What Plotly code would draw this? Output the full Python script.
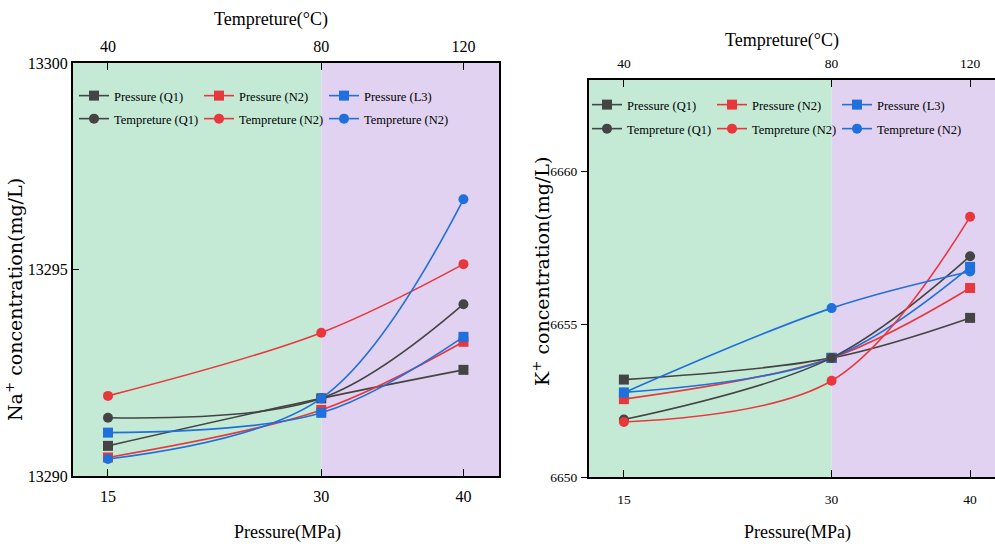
import plotly.graph_objects as go

pressure = [15, 30, 40]
pressure_ticks = ["15", "30", "40"]
temp_labels = ["40", "80", "120"]
series_names = ["Pressure (Q1)", "Pressure (N2)", "Pressure (L3)",
                "Tempreture (Q1)", "Tempreture (N2)", "Tempreture (N2)"]
series_colors = ["#444444", "#e8383d", "#1f6fdc", "#444444", "#e8383d", "#1f6fdc"]
series_symbols = ["square", "square", "square", "circle", "circle", "circle"]

na_p_q1 = [13290.73, 13291.88, 13292.57]
na_p_n2 = [13290.45, 13291.60, 13293.25]
na_p_l3 = [13291.05, 13291.53, 13293.37]
na_t_q1 = [13291.41, 13291.88, 13294.16]
na_t_n2r = [13291.94, 13293.47, 13295.13]
na_t_n2b = [13290.41, 13291.88, 13296.70]

k_p_q1 = [6653.19, 6653.90, 6655.21]
k_p_n2 = [6652.55, 6653.90, 6656.19]
k_p_l3 = [6652.77, 6653.90, 6656.88]
k_t_q1 = [6651.88, 6653.90, 6657.23]
k_t_n2r = [6651.80, 6653.15, 6658.52]
k_t_n2b = [6652.76, 6655.53, 6656.73]

na_series = [na_p_q1, na_p_n2, na_p_l3, na_t_q1, na_t_n2r, na_t_n2b]
k_series = [k_p_q1, k_p_n2, k_p_l3, k_t_q1, k_t_n2r, k_t_n2b]

FONT = "Liberation Serif"
W, H = 995, 548
GREEN = "#c4ead6"
PURPLE = "#e1d2f1"

fig = go.Figure()

def add_series(data, xa, ya, legends):
    for i, vals in enumerate(data):
        fig.add_trace(go.Scatter(
            x=pressure, y=vals, name=series_names[i], xaxis=xa, yaxis=ya,
            mode="lines+markers", line=dict(color=series_colors[i], width=1.6, shape="spline"),
            marker=dict(symbol=series_symbols[i], size=10, color=series_colors[i]),
            legend=legends[0] if i < 3 else legends[1], showlegend=True))

add_series(na_series, "x", "y", ["legend", "legend2"])
add_series(k_series, "x2", "y2", ["legend3", "legend4"])

# plot areas in pixels
L1 = (73, 499, 63, 476)
L2 = (589, 995, 80, 477)
def dom_x(a):
    return [a[0] / W, a[1] / W]
def dom_y(a):
    return [1 - a[3] / H, 1 - a[2] / H]

xr1 = [12.54, 42.5]
xr2 = [12.48, 41.8]

tf_left = dict(family=FONT, size=16, color="black")
tf_right = dict(family=FONT, size=13.5, color="black")
common_x = dict(tickmode="array", tickvals=pressure, showline=True, linecolor="black",
                linewidth=2, ticks="inside", ticklen=7, tickcolor="black", showgrid=False,
                zeroline=False, automargin=False)

fig.update_layout(
    width=W, height=H, margin=dict(l=0, r=0, t=0, b=0, autoexpand=False),
    paper_bgcolor="white", plot_bgcolor="rgba(0,0,0,0)",
    xaxis=dict(domain=dom_x(L1), range=xr1, ticktext=pressure_ticks, anchor="y",
               ticklabelstandoff=5, tickfont=tf_left, **common_x),
    yaxis=dict(domain=dom_y(L1), range=[13290, 13300], tickvals=[13290, 13295, 13300],
               tickformat="d", automargin=False,
               showline=True, linecolor="black", linewidth=2, ticks="inside", ticklen=6,
               tickcolor="black", mirror=True, showgrid=False, zeroline=False,
               tickfont=tf_left, anchor="x"),
    xaxis3=dict(overlaying="x", side="top", range=xr1, ticktext=temp_labels, anchor="y",
                ticklabelstandoff=3, tickfont=tf_left, **common_x),
    xaxis2=dict(domain=dom_x(L2), range=xr2, ticktext=pressure_ticks, anchor="y2",
                ticklabelstandoff=9, tickfont=tf_right, **common_x),
    yaxis2=dict(domain=dom_y(L2), range=[6650, 6663], tickvals=[6650, 6655, 6660],
                tickformat="d", automargin=False, ticklabelstandoff=1,
                showline=True, linecolor="black", linewidth=2, ticks="outside", ticklen=6,
                tickcolor="black", showgrid=False, zeroline=False,
                tickfont=tf_right, anchor="x2"),
    xaxis4=dict(overlaying="x2", side="top", range=xr2, ticktext=temp_labels, anchor="y2",
                ticklabelstandoff=5, tickfont=tf_right, **common_x),
)

# hidden points that activate the top (temperature) axes, placed outside the visible range
fig.add_trace(go.Scatter(x=[20], y=[13280], xaxis="x3", yaxis="y", showlegend=False,
                         mode="markers", hoverinfo="skip"))
fig.add_trace(go.Scatter(x=[20], y=[6640], xaxis="x4", yaxis="y2", showlegend=False,
                         mode="markers", hoverinfo="skip"))

# background shading
for xref, yref, xr in [("x", "y domain", xr1), ("x2", "y2 domain", xr2)]:
    fig.add_shape(type="rect", xref=xref, yref=yref, x0=xr[0], x1=30, y0=0, y1=1,
                  fillcolor=GREEN, line_width=0, layer="below")
    fig.add_shape(type="rect", xref=xref, yref=yref, x0=30, x1=xr[1], y0=0, y1=1,
                  fillcolor=PURPLE, line_width=0, layer="below")

leg_common = dict(orientation="h", bgcolor="rgba(0,0,0,0)", borderwidth=0,
                  font=dict(family=FONT, size=12.5, color="black"),
                  entrywidth=80, entrywidthmode="pixels", itemwidth=30,
                  xanchor="left", yanchor="middle", tracegroupgap=0)
fig.update_layout(
    legend=dict(x=74 / W, y=1 - 96 / H, **leg_common),
    legend2=dict(x=74 / W, y=1 - 119 / H, **leg_common),
    legend3=dict(x=587 / W, y=1 - 105 / H, **leg_common),
    legend4=dict(x=587 / W, y=1 - 129 / H, **leg_common),
)

title_font = dict(family=FONT, size=18, color="black")
ann = [
    dict(text="Tempreture(°C)", x=271 / W, y=1 - 20 / H),
    dict(text="Tempreture(°C)", x=782 / W, y=1 - 40 / H),
    dict(text="Pressure(MPa)", x=287 / W, y=1 - 532 / H),
    dict(text="Pressure(MPa)", x=797 / W, y=1 - 532 / H),
]
for a in ann:
    fig.add_annotation(xref="paper", yref="paper", showarrow=False, font=title_font,
                       xanchor="center", yanchor="middle", **a)
fig.add_annotation(text="Na<sup>+</sup> concentration(mg/L)", xref="paper", yref="paper",
                   x=0, xanchor="left", y=1 - 300 / H, textangle=-90, showarrow=False,
                   font=dict(family="DejaVu Serif", size=19, color="black"))
fig.add_annotation(text="K<sup>+</sup> concentration(mg/L)", xref="paper", yref="paper",
                   x=541 / W, y=1 - 272 / H, textangle=-90, showarrow=False,
                   font=dict(family="DejaVu Serif", size=19, color="black"))

fig.write_html("out.html", config={"displayModeBar": False},
               post_script="document.body.style.margin='0';document.body.style.overflow='hidden';")
